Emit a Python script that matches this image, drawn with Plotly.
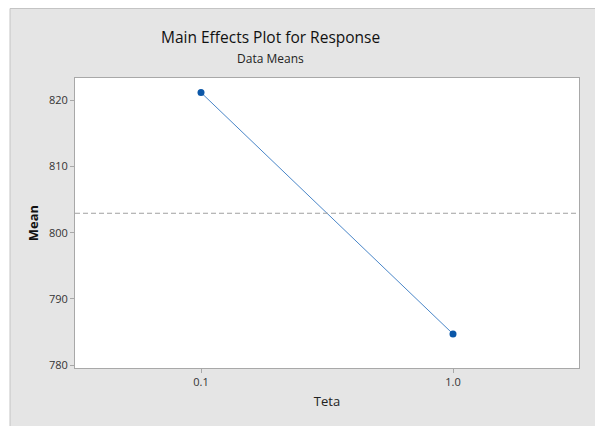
import plotly.graph_objects as go

categories = ["0.1", "1.0"]
means = [821.2, 784.7]
overall_mean = 802.95
y_ticks = [780, 790, 800, 810, 820]

W, H = 595, 426
L, R, T, B = 75, 16, 78, 58
pw, ph = W - L - R, H - T - B

def px_x(p):
    return (p - L) / pw

def px_y(p):
    return 1 - (p - T) / ph

fig = go.Figure()
fig.add_trace(go.Scatter(
    x=[0, 1], y=means, mode="lines+markers",
    line=dict(color="#4a86c8", width=1),
    marker=dict(color="#0b57a8", size=7),
    hoverinfo="skip", showlegend=False,
))

fig.add_hline(y=overall_mean, line=dict(color="#a0a0a0", width=1, dash="5px,3px"))

# gray background box
fig.add_shape(type="rect", xref="paper", yref="paper",
              x0=px_x(10), x1=px_x(W + 5), y0=px_y(H + 5), y1=px_y(8.5),
              fillcolor="#e5e5e5", line=dict(color="#c4c4c4", width=1), layer="below")
# white plot area on top of the gray box
fig.add_shape(type="rect", xref="paper", yref="paper",
              x0=0, x1=1, y0=0, y1=1,
              fillcolor="white", line=dict(width=0), layer="below")

fig.add_annotation(text="Main Effects Plot for Response", xref="paper", yref="paper",
                   x=px_x(270.5), y=px_y(37), xanchor="center", yanchor="middle",
                   showarrow=False, font=dict(size=15.5, color="#111"))
fig.add_annotation(text="Data Means", xref="paper", yref="paper",
                   x=px_x(270.5), y=px_y(59), xanchor="center", yanchor="middle",
                   showarrow=False, font=dict(size=12, color="#222"))

fig.update_layout(
    width=W, height=H,
    margin=dict(l=L, r=R, t=T, b=B),
    paper_bgcolor="white", plot_bgcolor="white",
    font=dict(family="Open Sans, Noto Sans, sans-serif", color="#222"),
    xaxis=dict(range=[-0.5, 1.5], tickvals=[0, 1], ticktext=categories,
               showgrid=False, zeroline=False, showline=True, mirror=True,
               linecolor="#a8a8a8", linewidth=1, ticks="outside", ticklen=4,
               tickcolor="#a8a8a8", tickfont=dict(size=11, color="#333"),
               title=dict(text="Teta", font=dict(size=13, color="#222"), standoff=8)),
    yaxis=dict(range=[779.55, 823.4], tickvals=y_ticks, ticktext=[str(v) for v in y_ticks],
               showgrid=False, zeroline=False, showline=True, mirror=True,
               linecolor="#a8a8a8", linewidth=1, ticks="outside", ticklen=4,
               tickcolor="#a8a8a8", tickfont=dict(size=11, color="#333"),
               title=dict(text="<b>Mean</b>", font=dict(size=13, color="#111"), standoff=7)),
)

fig.write_html("out.html", config={"displayModeBar": False},
               post_script="document.body.style.margin='0px';document.body.style.overflow='hidden';")
